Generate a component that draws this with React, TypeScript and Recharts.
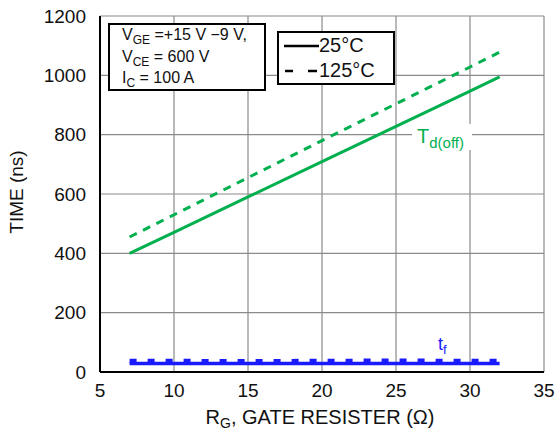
import React from "react";
import { LineChart, Line, XAxis, YAxis, CartesianGrid } from "recharts";

const rg = [7, 10, 15, 20, 25, 30, 32];
const tdoff25 = [400, 471, 590, 709, 828, 947, 995];
const tdoff125 = [455, 530, 655, 780, 904, 1028, 1078];
const tf25 = [29, 29, 29, 29, 29, 29, 29];
const tf125 = [37, 37, 36, 37, 38, 37, 37];
const xTicks = [5, 10, 15, 20, 25, 30, 35];
const yTicks = [0, 200, 400, 600, 800, 1000, 1200];

const data = rg.map((x, i) => ({
  x,
  a: tdoff25[i],
  b: tdoff125[i],
  c: tf25[i],
  d: tf125[i],
}));

const GREEN = "#00b04f";
const BLUE = "#1a1aff";
const FONT = "'Liberation Sans', Arial, Helvetica, sans-serif";

const subStyle: React.CSSProperties = { fontSize: 12, position: "relative", top: 4 };

export default function App() {
  return (
    <div style={{ position: "absolute", left: 0, top: 0, width: 560, height: 437, background: "#fff", fontFamily: FONT }}>
      <LineChart width={560} height={437} data={data} margin={{ top: 16, right: 16, left: 0, bottom: 0 }}>
        <CartesianGrid stroke="#8a8a8a" strokeWidth={1.2} />
        <XAxis
          dataKey="x"
          type="number"
          domain={[5, 35]}
          ticks={xTicks}
          height={65}
          tickLine={false}
          axisLine={{ stroke: "#000", strokeWidth: 2 }}
          tick={{ fill: "#111", fontSize: 19, fontFamily: FONT }}
          tickMargin={6}
          interval={0}
        />
        <YAxis
          type="number"
          domain={[0, 1200]}
          ticks={yTicks}
          width={100}
          tickLine={false}
          axisLine={{ stroke: "#000", strokeWidth: 2 }}
          tick={{ fill: "#111", fontSize: 19, fontFamily: FONT }}
          tickMargin={8}
          interval={0}
        />
        <Line dataKey="a" stroke={GREEN} strokeWidth={3} dot={false} isAnimationActive={false} />
        <Line dataKey="b" stroke={GREEN} strokeWidth={3} strokeDasharray="8 7" dot={false} isAnimationActive={false} />
        <Line dataKey="c" stroke={BLUE} strokeWidth={3.5} dot={false} isAnimationActive={false} />
        <Line dataKey="d" stroke={BLUE} strokeWidth={4.5} strokeDasharray="7 11" dot={false} isAnimationActive={false} />
      </LineChart>

      {/* Axis titles */}
      <div style={{ position: "absolute", left: 17, top: 192, transform: "translate(-50%,-50%) rotate(-90deg)", fontSize: 19, whiteSpace: "nowrap", color: "#111", lineHeight: "20px" }}>
        TIME (ns)
      </div>
      <div style={{ position: "absolute", left: 320, top: 418, transform: "translate(-50%,-50%)", fontSize: 20, whiteSpace: "nowrap", color: "#111", lineHeight: "20px" }}>
        R<span style={{ fontSize: 14, position: "relative", top: 4 }}>G</span>, GATE RESISTER (Ω)
      </div>

      {/* Conditions box */}
      <div style={{ position: "absolute", left: 108, top: 23, width: 154, height: 64, border: "2px solid #000", background: "#fff", fontSize: 16, color: "#111" }}>
        <div style={{ position: "absolute", left: 12, top: 1, lineHeight: "18px", whiteSpace: "nowrap" }}>
          V<span style={subStyle}>GE</span> =+15 V −9 V,
        </div>
        <div style={{ position: "absolute", left: 12, top: 23, lineHeight: "18px", whiteSpace: "nowrap" }}>
          V<span style={subStyle}>CE</span> = 600 V
        </div>
        <div style={{ position: "absolute", left: 12, top: 44, lineHeight: "18px", whiteSpace: "nowrap" }}>
          I<span style={subStyle}>C</span> = 100 A
        </div>
      </div>

      {/* Legend box */}
      <div style={{ position: "absolute", left: 277, top: 31, width: 114, height: 50, border: "2px solid #000", background: "#fff", color: "#111", fontSize: 20 }}>
        <svg width={42} height={50} style={{ position: "absolute", left: 0, top: 0 }}>
          <line x1={5} y1={13} x2={40} y2={13} stroke="#000" strokeWidth={2.5} />
          <line x1={6} y1={38} x2={14} y2={38} stroke="#000" strokeWidth={2.5} />
          <line x1={29} y1={38} x2={38} y2={38} stroke="#000" strokeWidth={2.5} />
        </svg>
        <div style={{ position: "absolute", left: 40, top: 1, lineHeight: "22px" }}>25°C</div>
        <div style={{ position: "absolute", left: 40, top: 26, lineHeight: "22px" }}>125°C</div>
      </div>

      {/* Td(off) label */}
      <div style={{ position: "absolute", left: 412, top: 124, background: "#fff", color: GREEN, fontSize: 20, padding: "0 8px 0 5px", lineHeight: "24px", whiteSpace: "nowrap" }}>
        T<span style={{ fontSize: 15, position: "relative", top: 5 }}>d(off)</span>
      </div>

      {/* tf label */}
      <div style={{ position: "absolute", left: 438, top: 334, color: BLUE, fontSize: 18, lineHeight: "20px" }}>
        t<span style={{ fontSize: 13, position: "relative", top: 4 }}>f</span>
      </div>
    </div>
  );
}
